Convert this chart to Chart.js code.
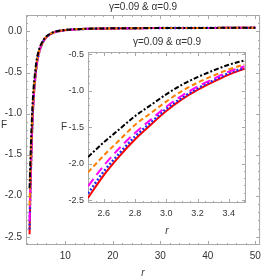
<!DOCTYPE html>
<html>
<head>
<meta charset="utf-8">
<script src="https://cdn.jsdelivr.net/npm/chart.js@4.4.0/dist/chart.umd.min.js"></script>
<style>
  body { margin: 0; background: #fff; }
  #wrap { position: relative; width: 266px; height: 280px; }
  #main { position: absolute; left: 0; top: 0; }
  #inset { position: absolute; left: 55px; top: 30px; }
</style>
</head>
<body>
<div id="wrap">
  <canvas id="main" width="266" height="280"></canvas>
  <canvas id="inset" width="211" height="210"></canvas>
</div>
<script>
const titleText = "γ=0.09 & α=0.9";

// close-up range (inset), r = 2.5 ... 3.5
const rInset = [2.5, 2.6, 2.7, 2.8, 2.9, 3.0, 3.1, 3.2, 3.3, 3.4, 3.5];
const fRed     = [-2.47, -2.16, -1.90, -1.67, -1.47, -1.28, -1.12, -0.99, -0.88, -0.78, -0.70];
const fBlue    = [-2.41, -2.11, -1.86, -1.63, -1.44, -1.25, -1.10, -0.97, -0.86, -0.76, -0.69];
const fMagenta = [-2.31, -2.03, -1.79, -1.58, -1.40, -1.22, -1.07, -0.945, -0.84, -0.74, -0.665];
const fOrange  = [-2.12, -1.89, -1.68, -1.47, -1.31, -1.15, -1.005, -0.89, -0.795, -0.71, -0.64];
const fBlack   = [-1.91, -1.71, -1.53, -1.35, -1.20, -1.05, -0.92, -0.815, -0.725, -0.645, -0.585];

// rest of the main plot, r = 4 ... 50
const rTail = [4, 4.5, 5, 6, 7, 8, 10, 12, 15, 20, 30, 40, 50];
const fRedTail     = [-0.41, -0.26, -0.17, -0.075, -0.03, -0.005, 0.015, 0.025, 0.032, 0.037, 0.041, 0.043, 0.044];
const fBlueTail    = [-0.40, -0.255, -0.165, -0.072, -0.028, -0.004, 0.016, 0.025, 0.032, 0.037, 0.041, 0.043, 0.044];
const fMagentaTail = [-0.39, -0.25, -0.16, -0.07, -0.027, -0.003, 0.016, 0.025, 0.032, 0.037, 0.041, 0.043, 0.044];
const fOrangeTail  = [-0.37, -0.24, -0.155, -0.067, -0.025, -0.002, 0.017, 0.026, 0.033, 0.037, 0.041, 0.043, 0.044];
const fBlackTail   = [-0.34, -0.22, -0.145, -0.062, -0.022, 0.0, 0.018, 0.026, 0.033, 0.038, 0.041, 0.043, 0.044];

// tick labels
const mainXTicks = [10, 20, 30, 40, 50];
const mainYTicks = [-2.5, -2.0, -1.5, -1.0, -0.5, 0.0];
const insetXTicks = [2.6, 2.8, 3.0, 3.2, 3.4];
const insetYTicks = [-2.5, -2.0, -1.5, -1.0, -0.5];

const FONT = "'Liberation Sans Narrow', 'Liberation Sans', Arial, sans-serif";
Chart.defaults.font.family = FONT;
Chart.defaults.font.size = 10;
Chart.defaults.color = '#333';

const styles = [
  { color: '#ff0000', dash: [], width: 2, order: 5 },
  { color: '#1f2cf0', dash: [2, 2], width: 2.4, order: 4 },
  { color: '#ff00ff', dash: [9, 5], width: 2, order: 3 },
  { color: '#ff8000', dash: [5, 3], width: 2, order: 2 },
  { color: '#000000', dash: [5, 2, 2, 2], width: 2, order: 1 }
];

function pts(xs, ys) {
  return xs.map((x, i) => ({ x: x, y: ys[i] }));
}

function makeSets(list) {
  return list.map((ys, i) => ({
    data: pts(list.xs, ys),
    borderColor: styles[i].color,
    borderDash: styles[i].dash,
    borderWidth: styles[i].width,
    order: styles[i].order,
    pointRadius: 0,
    fill: false,
    cubicInterpolationMode: 'monotone'
  }));
}

function fmt(v) {
  return (v < 0 ? '-' : '') + Math.abs(v).toFixed(1);
}

function range(a, b, step) {
  let out = [];
  for (let v = a; v <= b + 1e-9; v += step) out.push(+v.toFixed(4));
  return out;
}

// frame with inward ticks on all four sides, plus F / r labels
const framePlugin = {
  id: 'frame',
  beforeDatasetsDraw(chart, args, opts) {
    const ctx = chart.ctx;
    const a = chart.chartArea;
    const xs = chart.scales.x, ys = chart.scales.y;
    ctx.save();
    ctx.strokeStyle = '#a8a8a8';
    ctx.lineWidth = 1;
    ctx.strokeRect(a.left + 0.5, a.top + 0.5, a.right - a.left - 1, a.bottom - a.top - 1);
    ctx.beginPath();
    const tick = (list, len, isX) => {
      list.forEach(v => {
        if (isX) {
          const p = Math.round(xs.getPixelForValue(v)) + 0.5;
          if (p < a.left || p > a.right) return;
          ctx.moveTo(p, a.bottom); ctx.lineTo(p, a.bottom - len);
          ctx.moveTo(p, a.top); ctx.lineTo(p, a.top + len);
        } else {
          const p = Math.round(ys.getPixelForValue(v)) + 0.5;
          if (p < a.top || p > a.bottom) return;
          ctx.moveTo(a.left, p); ctx.lineTo(a.left + len, p);
          ctx.moveTo(a.right, p); ctx.lineTo(a.right - len, p);
        }
      });
    };
    tick(opts.xMajor, 4, true);
    tick(opts.xMinor, 2, true);
    tick(opts.yMajor, 4, false);
    tick(opts.yMinor, 2, false);
    ctx.stroke();

    ctx.fillStyle = '#333';
    ctx.textAlign = 'center';
    ctx.textBaseline = 'middle';
    ctx.font = "10px " + FONT;
    ctx.fillText('F', opts.fx, opts.fy != null ? opts.fy : (a.top + a.bottom) / 2);
    ctx.font = "italic 10px " + FONT;
    ctx.fillText('r', (a.left + a.right) / 2, opts.ry);
    ctx.restore();
  }
};

function setTicks(list) {
  return s => { s.ticks = list.map(v => ({ value: v })); };
}

// main chart
const mainList = [
  fRed.concat(fRedTail), fBlue.concat(fBlueTail), fMagenta.concat(fMagentaTail),
  fOrange.concat(fOrangeTail), fBlack.concat(fBlackTail)
];
mainList.xs = rInset.concat(rTail);

new Chart(document.getElementById('main'), {
  type: 'line',
  data: { datasets: makeSets(mainList) },
  options: {
    responsive: false,
    animation: false,
    layout: { padding: { right: 1 } },
    plugins: {
      legend: { display: false },
      tooltip: { enabled: false },
      title: { display: true, text: titleText, fullSize: false, padding: { top: 1, bottom: 2 }, font: { size: 10, weight: 'normal' }, color: '#333' },
      frame: {
        xMajor: mainXTicks, xMinor: range(2, 50, 2),
        yMajor: mainYTicks, yMinor: range(-2.6, 0.2, 0.1),
        fx: 4, fy: 125, ry: 273
      }
    },
    scales: {
      x: {
        type: 'linear', min: 1.75, max: 51,
        afterBuildTicks: setTicks(mainXTicks),
        afterFit: s => { s.height = 35; },
        grid: { display: false, drawTicks: false },
        border: { display: false },
        ticks: { padding: 5, maxRotation: 0, callback: v => v }
      },
      y: {
        min: -2.6, max: 0.2,
        afterBuildTicks: setTicks(mainYTicks),
        afterFit: s => { s.width = 26; },
        grid: { display: false, drawTicks: false },
        border: { display: false },
        ticks: { padding: 4, callback: fmt }
      }
    }
  },
  plugins: [framePlugin]
});

// inset chart
const insetList = [fRed, fBlue, fMagenta, fOrange, fBlack];
insetList.xs = rInset;

new Chart(document.getElementById('inset'), {
  type: 'line',
  data: { datasets: makeSets(insetList) },
  options: {
    responsive: false,
    animation: false,
    layout: { padding: { right: 20 } },
    plugins: {
      legend: { display: false },
      tooltip: { enabled: false },
      title: { display: true, text: titleText, fullSize: false, padding: { top: 6, bottom: 4 }, font: { size: 10, weight: 'normal' }, color: '#333' },
      frame: {
        xMajor: insetXTicks, xMinor: range(2.5, 3.5, 0.05),
        yMajor: insetYTicks, yMinor: range(-2.5, -0.5, 0.1),
        fx: 9, ry: 201
      }
    },
    scales: {
      x: {
        type: 'linear', min: 2.5, max: 3.51,
        afterBuildTicks: setTicks(insetXTicks),
        afterFit: s => { s.height = 37; },
        grid: { display: false, drawTicks: false },
        border: { display: false },
        ticks: { padding: 5, maxRotation: 0, font: { size: 9 }, callback: v => v.toFixed(1) }
      },
      y: {
        min: -2.54, max: -0.47,
        afterBuildTicks: setTicks(insetYTicks),
        afterFit: s => { s.width = 33; },
        grid: { display: false, drawTicks: false },
        border: { display: false },
        ticks: { padding: 4, font: { size: 9 }, callback: fmt }
      }
    }
  },
  plugins: [framePlugin]
});
</script>
</body>
</html>
